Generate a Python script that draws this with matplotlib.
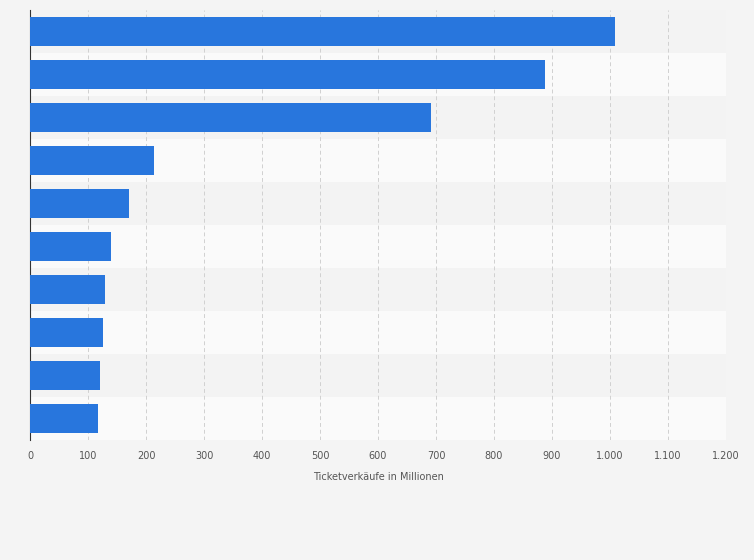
import matplotlib
matplotlib.use("Agg")
import matplotlib.pyplot as plt

categories = ["1", "2", "3", "4", "5", "6", "7", "8", "9", "10"]
values = [1009, 888, 691, 214, 171, 140, 129, 126, 121, 117]
ticks = [0, 100, 200, 300, 400, 500, 600, 700, 800, 900, 1000, 1100, 1200]
tick_labels = ["0", "100", "200", "300", "400", "500", "600", "700", "800", "900", "1.000", "1.100", "1.200"]

fig = plt.figure(figsize=(7.54, 5.6), dpi=100, facecolor="#f4f4f4")
ax = fig.add_axes([30/754, 1-440/560, 696/754, 430/560])
ax.set_facecolor("#f4f4f4")
n = len(categories)
for i in range(n):
    ax.axhspan(i-0.5, i+0.5, color="#f3f3f3" if i % 2 == 0 else "#fafafa", zorder=0, lw=0)
ax.barh(range(n), values, height=0.68, color="#2876dd", zorder=3)
ax.set_ylim(n-0.5, -0.5)
ax.set_xlim(0, 1200)
ax.set_xticks(ticks)
ax.set_xticklabels(tick_labels, fontsize=7, color="#555555")
ax.set_yticks([])
ax.grid(axis="x", color="#d0d0d0", linestyle=(0, (4, 3)), lw=0.7, zorder=1)
for s in ["top", "right", "bottom"]:
    ax.spines[s].set_visible(False)
ax.spines["left"].set_color("#333333")
ax.tick_params(axis="x", length=0, pad=8)
ax.set_xlabel("Ticketverkäufe in Millionen", fontsize=7, color="#555555", labelpad=8)
fig.savefig("out.png", dpi=100, facecolor=fig.get_facecolor())
